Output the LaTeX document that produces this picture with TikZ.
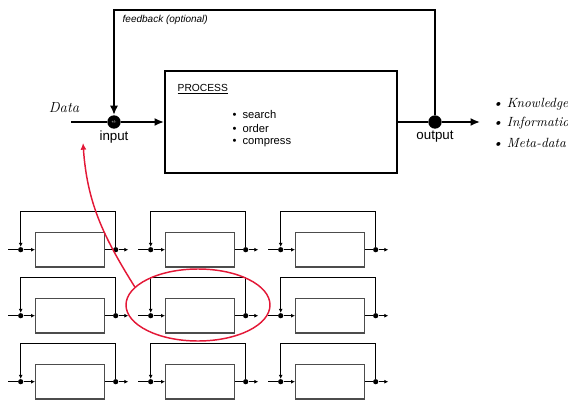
\documentclass[tikz,border=0pt]{standalone}
\usepackage{fontspec}
\setsansfont{Liberation Sans}
\usetikzlibrary{arrows.meta,shapes.geometric}
\definecolor{loopred}{RGB}{227,24,55}
\begin{document}
\begin{tikzpicture}[x=0.75pt,y=-0.75pt,
	mainline/.style={line width=1.5pt},
	miniline/.style={line width=0.75pt},
	bigdot/.style={circle,fill=black,inner sep=0pt,minimum size=10pt},
	smalldot/.style={circle,fill=black,inner sep=0pt,minimum size=3.9pt},
	procbox/.style={draw,line width=1.5pt,minimum width=174pt,minimum height=76.5pt},
	minibox/.style={draw=black!70,line width=1pt,minimum width=51.5pt,minimum height=25.8pt},
	label/.style={font=\sffamily\fontsize{10}{12}\selectfont},
	bigtip/.style={-{Latex[length=7pt,width=6pt]}},
	minitip/.style={-{Latex[length=3pt,width=3pt]}}]
	\useasboundingbox (0,0) rectangle (568,400);
	
	% Main loop
	\coordinate (datain) at (71,122);
	\node[bigdot] (input) at (114,122) {\fontsize{3}{3}\selectfont\color{white}\sffamily+/-};
	\node[procbox] (proc) at (281,122) {};
	\node[bigdot] (output) at (435,122) {};
	\coordinate (dataout) at (480,122);
	\coordinate (fbtop) at (435,10);
	
	\draw[mainline] (datain) -- (input);
	\draw[mainline,bigtip] (input) -- (proc);
	\draw[mainline] (proc) -- (output);
	\draw[mainline,bigtip] (output) -- (dataout);
	\draw[mainline,bigtip] (output) -- (fbtop) -| (input);
	
	% Texts
	\node[font=\sffamily\itshape\fontsize{7.5}{9}\selectfont,anchor=west] (fblabel) at (118,20) {feedback (optional)};
	\node[font=\sffamily\fontsize{7.7}{9}\selectfont,anchor=west] (proctitle) at (173,89) {\underline{PROCESS}};
	\node[font=\sffamily\fontsize{8.4}{10}\selectfont,anchor=west] (step1) at (228,114) {\textbullet\hspace{4.5pt}search};
	\node[font=\sffamily\fontsize{8.4}{10}\selectfont,anchor=west] (step2) at (228,128.5) {\textbullet\hspace{4.5pt}order};
	\node[font=\sffamily\fontsize{8.4}{10}\selectfont,anchor=west] (step3) at (228,143) {\textbullet\hspace{4.5pt}compress};
	\node[label] (inlabel) at (114,137) {input};
	\node[label] (outlabel) at (435,137) {output};
	\node[font=\itshape\fontsize{11}{13}\selectfont] (datalabel) at (64,108) {Data};
	\node[font=\itshape\fontsize{10}{12}\selectfont,anchor=west] (res1) at (488,104) {\textbullet\hspace{3pt}Knowledge};
	\node[font=\itshape\fontsize{10}{12}\selectfont,anchor=west] (res2) at (488,123.5) {\textbullet\hspace{3pt}Information};
	\node[font=\itshape\fontsize{10}{12}\selectfont,anchor=west] (res3) at (488,143) {\textbullet\hspace{3pt}Meta-data};
	
	% Small loops
	\foreach \col in {0,1,2}
	\foreach \row in {0,1,2} {
		\begin{scope}[shift={(20.7+130*\col,249.7+66*\row)}]
			\coordinate (m\col\row-a) at (-12.4,0);
			\node[smalldot] (m\col\row-i) at (0,0) {};
			\node[minibox] (m\col\row-b) at (49.3,0) {};
			\node[smalldot] (m\col\row-o) at (95,0) {};
			\coordinate (m\col\row-e) at (107.6,0);
			\coordinate (m\col\row-t) at (95,-38);
			\draw[miniline] (m\col\row-a) -- (m\col\row-i);
			\draw[miniline,minitip] (m\col\row-i) -- (m\col\row-b);
			\draw[miniline] (m\col\row-b) -- (m\col\row-o);
			\draw[miniline,minitip] (m\col\row-o) -- (m\col\row-e);
			\draw[miniline,minitip] (m\col\row-o) -- (m\col\row-t) -| (m\col\row-i);
		\end{scope}
	}
	
	% Zoom
	\node[draw=loopred,line width=1.1pt,ellipse,minimum width=108pt,minimum height=54pt] (focus) at (198,305) {};
	\coordinate (focustip) at (83,143);
	\draw[loopred,line width=1.1pt,-{Latex[length=5pt,width=4.5pt]}] (focus.164) to[out=122,in=-86] (focustip);
\end{tikzpicture}
\end{document}
